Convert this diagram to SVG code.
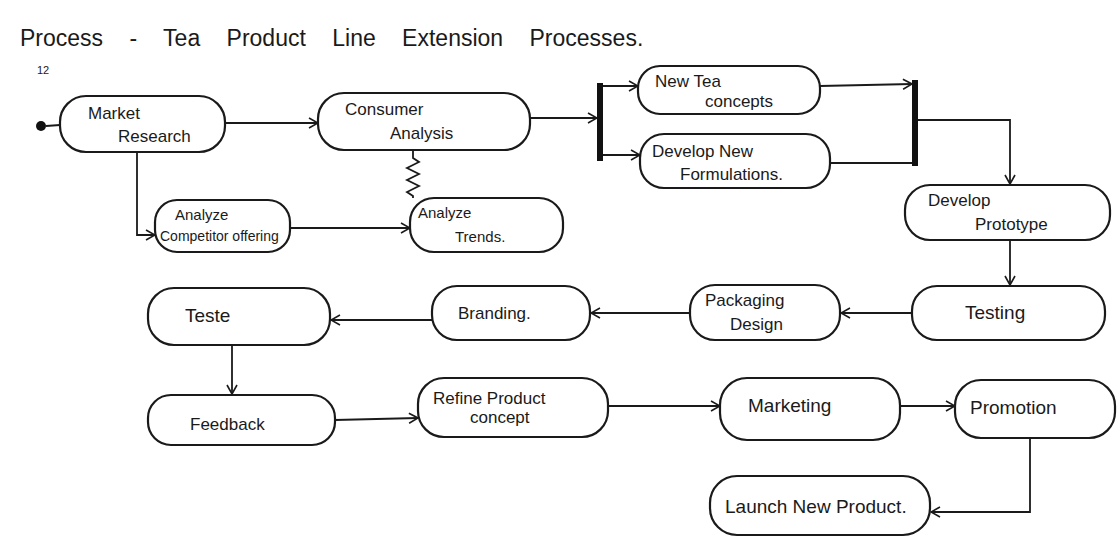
<svg xmlns="http://www.w3.org/2000/svg" width="1119" height="557" viewBox="0 0 1119 557">
<defs>
<style>
.n{fill:#fff;stroke:#1a1a1a;stroke-width:2.2}
.t{font-family:"Liberation Sans",Arial,sans-serif;font-size:17px;fill:#1a1a1a}
.e{fill:none;stroke:#1a1a1a;stroke-width:1.8}
.bar{fill:#111}
</style>
<marker id="a" viewBox="0 0 12 12" refX="11" refY="6" markerWidth="12" markerHeight="12" markerUnits="userSpaceOnUse" orient="auto">
<path d="M2,1 L11,6 L2,11" fill="none" stroke="#1a1a1a" stroke-width="1.6"/>
</marker>
</defs>
<rect width="1119" height="557" fill="#fff"/>
<text class="t" x="20" y="46" style="font-size:23px;word-spacing:20px">Process - Tea Product Line Extension Processes.</text>
<text class="t" x="37" y="74" style="font-size:11px">12</text>

<g id="connectors">
<circle cx="41" cy="126" r="5" fill="#111"/>
<path class="e" d="M46,126 L60,125"/>
<path class="e" d="M225,123 L318,123" marker-end="url(#a)"/>
<path class="e" d="M137,152 L137,235 L155,235" marker-end="url(#a)"/>
<path class="e" d="M290,228 L410,228" marker-end="url(#a)"/>
<path class="e" d="M413,150 L413,158 L419,162 L407,168 L419,174 L407,180 L419,186 L407,192 L413,196 L413,198"/>
<path class="e" d="M530,118 L597,118" marker-end="url(#a)"/>
<rect class="bar" x="597" y="83" width="6" height="78"/>
<path class="e" d="M603,86 L638,86" marker-end="url(#a)"/>
<path class="e" d="M603,155 L640,155" marker-end="url(#a)"/>
<path class="e" d="M820,86 L912,84" marker-end="url(#a)"/>
<path class="e" d="M830,163 L912,163"/>
<rect class="bar" x="912" y="80" width="6" height="86"/>
<path class="e" d="M918,120 L1010,120 L1010,184" marker-end="url(#a)"/>
<path class="e" d="M1010,240 L1010,285" marker-end="url(#a)"/>
<path class="e" d="M912,313 L841,313" marker-end="url(#a)"/>
<path class="e" d="M690,313 L591,313" marker-end="url(#a)"/>
<path class="e" d="M432,320 L331,320" marker-end="url(#a)"/>
<path class="e" d="M232,345 L232,394" marker-end="url(#a)"/>
<path class="e" d="M335,420 L418,418" marker-end="url(#a)"/>
<path class="e" d="M608,406 L720,406" marker-end="url(#a)"/>
<path class="e" d="M900,406 L955,406" marker-end="url(#a)"/>
<path class="e" d="M1030,438 L1030,512 L931,512" marker-end="url(#a)"/>
</g>

<g id="market-research"><rect class="n" x="60" y="96" width="165" height="56" rx="26"/>
<text class="t" x="88" y="119">Market</text><text class="t" x="118" y="142">Research</text></g>
<g id="consumer-analysis"><rect class="n" x="318" y="93" width="212" height="57" rx="26"/>
<text class="t" x="345" y="115">Consumer</text><text class="t" x="390" y="139">Analysis</text></g>
<g id="analyze-competitor"><rect class="n" x="155" y="200" width="135" height="52" rx="22"/>
<text class="t" x="175" y="220" style="font-size:15px">Analyze</text><text class="t" x="160" y="241" style="font-size:14px">Competitor offering</text></g>
<g id="analyze-trends"><rect class="n" x="410" y="198" width="153" height="54" rx="24"/>
<text class="t" x="418" y="218" style="font-size:15px">Analyze</text><text class="t" x="455" y="242" style="font-size:15px">Trends.</text></g>
<g id="new-tea-concepts"><rect class="n" x="638" y="66" width="182" height="48" rx="22"/>
<text class="t" x="655" y="87">New Tea</text><text class="t" x="705" y="107">concepts</text></g>
<g id="develop-new-formulations"><rect class="n" x="640" y="134" width="190" height="54" rx="24"/>
<text class="t" x="652" y="157">Develop New</text><text class="t" x="680" y="180">Formulations.</text></g>
<g id="develop-prototype"><rect class="n" x="905" y="185" width="205" height="55" rx="25"/>
<text class="t" x="928" y="206">Develop</text><text class="t" x="975" y="230">Prototype</text></g>
<g id="testing"><rect class="n" x="912" y="286" width="193" height="54" rx="25"/>
<text class="t" x="965" y="319" style="font-size:19px">Testing</text></g>
<g id="packaging-design"><rect class="n" x="690" y="285" width="150" height="55" rx="25"/>
<text class="t" x="705" y="306">Packaging</text><text class="t" x="730" y="330">Design</text></g>
<g id="branding"><rect class="n" x="432" y="286" width="158" height="54" rx="25"/>
<text class="t" x="458" y="319">Branding.</text></g>
<g id="teste"><rect class="n" x="148" y="288" width="182" height="57" rx="26"/>
<text class="t" x="185" y="322" style="font-size:19px">Teste</text></g>
<g id="feedback"><rect class="n" x="148" y="395" width="187" height="50" rx="23"/>
<text class="t" x="190" y="430">Feedback</text></g>
<g id="refine-product-concept"><rect class="n" x="418" y="378" width="190" height="59" rx="26"/>
<text class="t" x="433" y="404">Refine Product</text><text class="t" x="470" y="423">concept</text></g>
<g id="marketing"><rect class="n" x="720" y="378" width="180" height="62" rx="27"/>
<text class="t" x="748" y="412" style="font-size:19px">Marketing</text></g>
<g id="promotion"><rect class="n" x="955" y="380" width="160" height="58" rx="26"/>
<text class="t" x="970" y="414" style="font-size:19px">Promotion</text></g>
<g id="launch-new-product"><rect class="n" x="710" y="476" width="220" height="59" rx="27"/>
<text class="t" x="725" y="513" style="font-size:19px">Launch New Product.</text></g>
</svg>
